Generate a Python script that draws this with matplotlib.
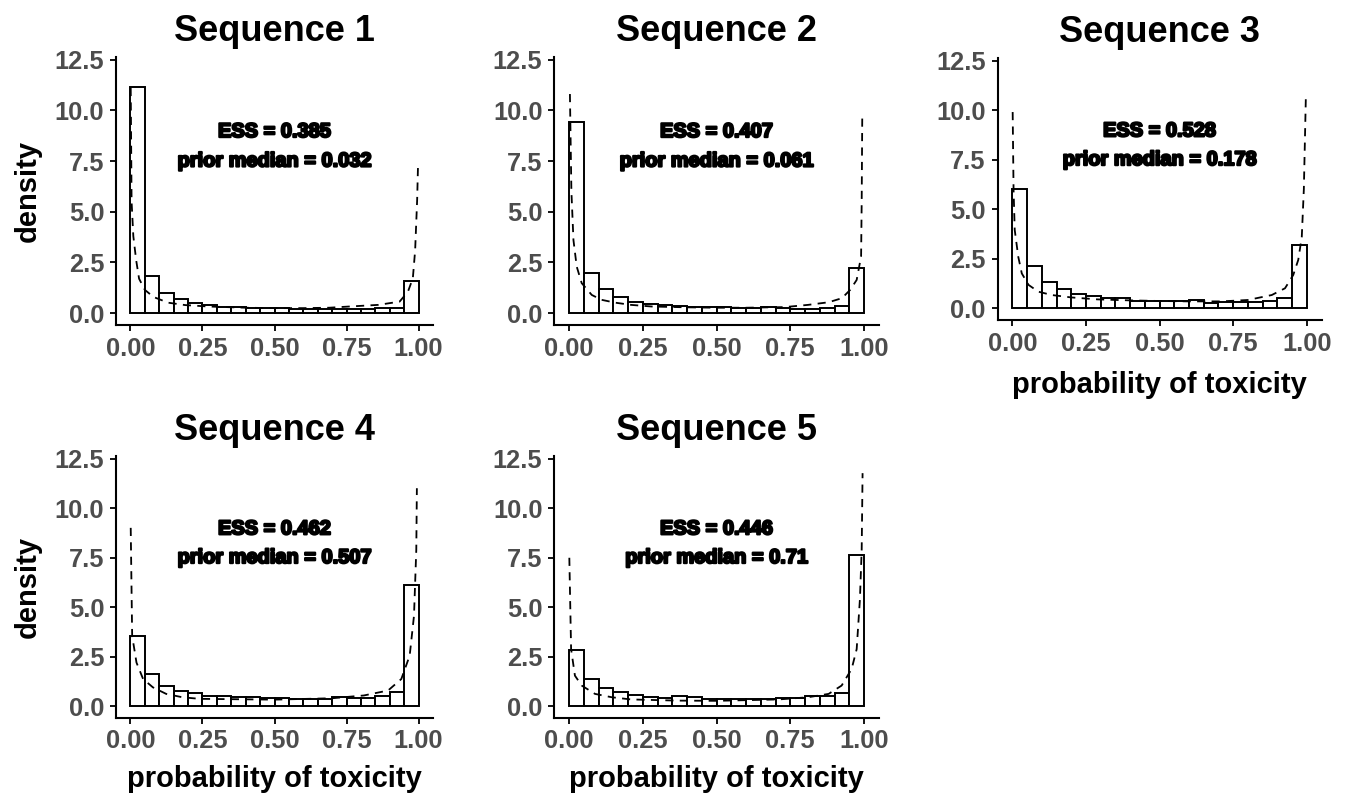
import numpy as np
import matplotlib
matplotlib.use("Agg")
import matplotlib.pyplot as plt
import matplotlib.patheffects as pe

plt.rcParams['font.family'] = ['Liberation Sans', 'DejaVu Sans']

titulos = ["Sequence 1", "Sequence 2", "Sequence 3", "Sequence 4", "Sequence 5"]
ess = ["0.385", "0.407", "0.528", "0.462", "0.446"]
medianas = ["0.032", "0.061", "0.178", "0.507", "0.71"]

bordes = np.linspace(0, 1, 21)

barras1 = [11.15, 1.85, 1.02, 0.69, 0.52, 0.39, 0.33, 0.31, 0.26, 0.26,
           0.28, 0.20, 0.20, 0.20, 0.20, 0.20, 0.21, 0.25, 0.25, 1.61]
barras2 = [9.43, 2.00, 1.18, 0.80, 0.54, 0.46, 0.41, 0.34, 0.33, 0.31,
           0.31, 0.28, 0.28, 0.30, 0.25, 0.23, 0.23, 0.28, 0.34, 2.21]
barras3 = [6.00, 2.15, 1.33, 0.96, 0.74, 0.64, 0.54, 0.50, 0.39, 0.37,
           0.37, 0.37, 0.40, 0.29, 0.32, 0.32, 0.30, 0.35, 0.52, 3.18]
barras4 = [3.53, 1.62, 1.02, 0.77, 0.64, 0.52, 0.52, 0.44, 0.45, 0.40,
           0.42, 0.37, 0.37, 0.34, 0.45, 0.40, 0.40, 0.52, 0.74, 6.13]
barras5 = [2.86, 1.37, 0.94, 0.70, 0.54, 0.47, 0.40, 0.50, 0.44, 0.34,
           0.37, 0.37, 0.35, 0.35, 0.39, 0.40, 0.50, 0.52, 0.69, 7.62]

# curva a priori
cx1 = [0.001, 0.004, 0.01, 0.02, 0.03, 0.05, 0.08, 0.13, 0.19, 0.27, 0.4, 0.5,
       0.6, 0.69, 0.76, 0.86, 0.934, 0.963, 0.98, 0.988, 0.995, 0.998]
cy1 = [11.1, 5.5, 3.8, 2.6, 1.7, 1.15, 0.8, 0.52, 0.40, 0.33, 0.27, 0.25,
       0.25, 0.27, 0.33, 0.41, 0.57, 1.06, 1.72, 3.1, 5.6, 7.3]
cx2 = [0.003, 0.008, 0.015, 0.026, 0.043, 0.077, 0.11, 0.156, 0.21, 0.28, 0.4, 0.5,
       0.6, 0.73, 0.81, 0.88, 0.925, 0.953, 0.975, 0.99, 0.992, 0.994]
cy2 = [10.8, 6.0, 3.6, 2.3, 1.48, 0.9, 0.66, 0.52, 0.41, 0.33, 0.29, 0.27,
       0.27, 0.30, 0.41, 0.54, 0.74, 1.15, 1.64, 2.8, 5.5, 9.9]
cx3 = [0.001, 0.004, 0.008, 0.02, 0.032, 0.055, 0.088, 0.134, 0.2, 0.29, 0.4, 0.5,
       0.6, 0.71, 0.8, 0.881, 0.926, 0.954, 0.971, 0.983, 0.99, 0.997]
cy3 = [9.9, 6.0, 3.95, 2.6, 1.76, 1.18, 0.84, 0.67, 0.55, 0.45, 0.40, 0.37,
       0.35, 0.35, 0.42, 0.67, 1.01, 1.68, 2.44, 3.6, 6.0, 10.76]
cx4 = [0.001, 0.006, 0.021, 0.044, 0.078, 0.124, 0.18, 0.24, 0.5, 0.7, 0.81,
       0.894, 0.94, 0.969, 0.984, 0.992, 0.994]
cy4 = [9.0, 3.55, 2.2, 1.37, 0.95, 0.62, 0.45, 0.37, 0.33, 0.40, 0.54,
       0.79, 1.37, 2.55, 4.56, 7.9, 11.0]
cx5 = [0.001, 0.007, 0.02, 0.043, 0.088, 0.145, 0.21, 0.37, 0.5, 0.71, 0.81,
       0.88, 0.924, 0.958, 0.975, 0.986, 0.992, 0.995]
cy5 = [7.49, 2.88, 1.54, 1.04, 0.62, 0.45, 0.34, 0.28, 0.27, 0.34, 0.45,
       0.62, 1.04, 1.88, 2.88, 5.4, 7.9, 11.76]

barras = [barras1, barras2, barras3, barras4, barras5]
curvas = [(cx1, cy1), (cx2, cy2), (cx3, cy3), (cx4, cy4), (cx5, cy5)]

# posiciones de los paneles en fraccion de la figura
posiciones = [
    [0.0862, 0.5902, 0.2355, 0.3383],
    [0.4118, 0.5902, 0.2411, 0.3383],
    [0.7412, 0.5967, 0.2406, 0.3305],
    [0.0862, 0.0950, 0.2355, 0.3303],
    [0.4118, 0.0950, 0.2411, 0.3303],
]

fig = plt.figure(figsize=(13.46, 7.93), dpi=100)

for i in range(5):
    ax = fig.add_axes(posiciones[i])
    ax.bar(bordes[:-1], barras[i], width=0.05, align='edge',
           facecolor='white', edgecolor='black', linewidth=1.4, zorder=2)
    cx, cy = curvas[i]
    ax.plot(cx, cy, color='black', linestyle='--', dashes=(4.5, 3.5), linewidth=1.3, zorder=3)

    ax.set_xlim(-0.05, 1.05)
    ax.set_ylim(-0.58, 12.64)
    ax.set_xticks([0, 0.25, 0.5, 0.75, 1.0])
    ax.set_xticklabels(["0.00", "0.25", "0.50", "0.75", "1.00"])
    ax.set_yticks([0, 2.5, 5, 7.5, 10, 12.5])
    ax.set_yticklabels(["0.0", "2.5", "5.0", "7.5", "10.0", "12.5"])

    for lado in ['top', 'right']:
        ax.spines[lado].set_visible(False)
    for lado in ['left', 'bottom']:
        ax.spines[lado].set_linewidth(1.5)
    ax.tick_params(axis='both', length=4.5, width=1.3, pad=4, labelsize=18.3,
                   labelcolor='#4D4D4D', color='black')
    for t in ax.get_xticklabels() + ax.get_yticklabels():
        t.set_fontweight('bold')

    ax.set_title(titulos[i], fontsize=26, fontweight='bold', pad=11)

    efecto = [pe.withStroke(linewidth=1.6, foreground='black')]
    ax.text(0.5, 8.95, "ESS = " + ess[i], ha='center', va='center', fontsize=14.4,
            fontweight='bold', path_effects=efecto)
    ax.text(0.5, 7.5, "prior median = " + medianas[i], ha='center', va='center',
            fontsize=14.4, fontweight='bold', path_effects=efecto)

    if i in (0, 3):
        ax.set_ylabel("density", fontsize=21, fontweight='bold', labelpad=9)
    if i == 2:
        ax.set_xlabel("probability of toxicity", fontsize=21, fontweight='bold', labelpad=11)
    if i in (3, 4):
        ax.set_xlabel("probability of toxicity", fontsize=21, fontweight='bold', labelpad=8)

fig.savefig("out.png", dpi=100)
